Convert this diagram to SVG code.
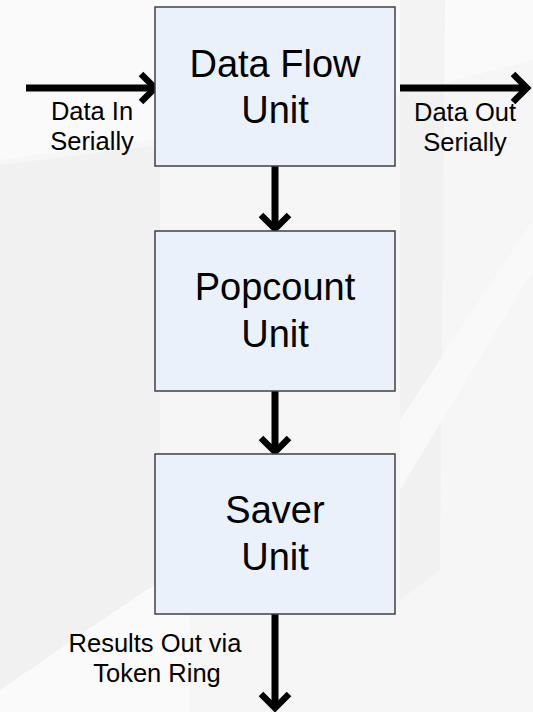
<svg xmlns="http://www.w3.org/2000/svg" width="533" height="712" viewBox="0 0 533 712">
<style>
.box{fill:#EAF1FA;stroke:#404040;stroke-width:1.5}
.big{font-family:"Liberation Sans",Arial,sans-serif;font-size:38px;fill:#000;text-anchor:middle}
.lbl{font-family:"Liberation Sans",Arial,sans-serif;font-size:25.5px;fill:#000;text-anchor:middle}
.conn{stroke:#000;stroke-width:7;fill:none;marker-end:url(#chev)}
</style>
<defs>
<marker id="chev" markerUnits="userSpaceOnUse" viewBox="-20 -20 40 40" markerWidth="40" markerHeight="40" refX="0" refY="0" orient="auto" overflow="visible">
<path d="M-14,-14 L0,0 L-14,14" fill="none" stroke="#000" stroke-width="6.5" stroke-linejoin="miter"/>
</marker>
</defs>
<g id="background">
<rect x="0" y="0" width="533" height="712" fill="#F6F6F6"/>
<polygon points="0,0 533,0 533,60 300,120 0,160" fill="#FAFAFA"/>
<polygon points="0,165 160,145 160,600 0,700" fill="#EFEFEF" opacity="0.6"/>
<polygon points="400,0 445,0 440,570 400,600" fill="#EEEEEE" opacity="0.6"/>
<polygon points="0,712 0,690 190,560 190,712" fill="#FAFAFA"/>
<polygon points="533,220 533,270 400,490 400,420" fill="#F9F9F9"/>
</g>
<g id="connectors">
<line class="conn" x1="26" y1="88" x2="155" y2="88"/>
<line class="conn" x1="400" y1="88" x2="527" y2="88"/>
<line class="conn" x1="275" y1="166" x2="275" y2="229"/>
<line class="conn" x1="275" y1="391" x2="275" y2="452"/>
<line class="conn" x1="275" y1="614" x2="275" y2="708"/>
</g>
<g id="dataflow">
<rect class="box" x="155" y="7" width="240" height="159"/>
<text class="big" x="275" y="77">Data Flow</text>
<text class="big" x="275" y="123">Unit</text>
</g>
<g id="popcount">
<rect class="box" x="155" y="231" width="240" height="160"/>
<text class="big" x="275" y="300">Popcount</text>
<text class="big" x="275" y="347">Unit</text>
</g>
<g id="saver">
<rect class="box" x="155" y="454" width="240" height="160"/>
<text class="big" x="275" y="523">Saver</text>
<text class="big" x="275" y="570">Unit</text>
</g>
<g id="label-in">
<text class="lbl" x="92" y="120">Data In</text>
<text class="lbl" x="92" y="150">Serially</text>
</g>
<g id="label-out">
<text class="lbl" x="465" y="121">Data Out</text>
<text class="lbl" x="465" y="151">Serially</text>
</g>
<g id="label-results">
<text class="lbl" x="155" y="652">Results Out via</text>
<text class="lbl" x="157" y="682">Token Ring</text>
</g>
</svg>
